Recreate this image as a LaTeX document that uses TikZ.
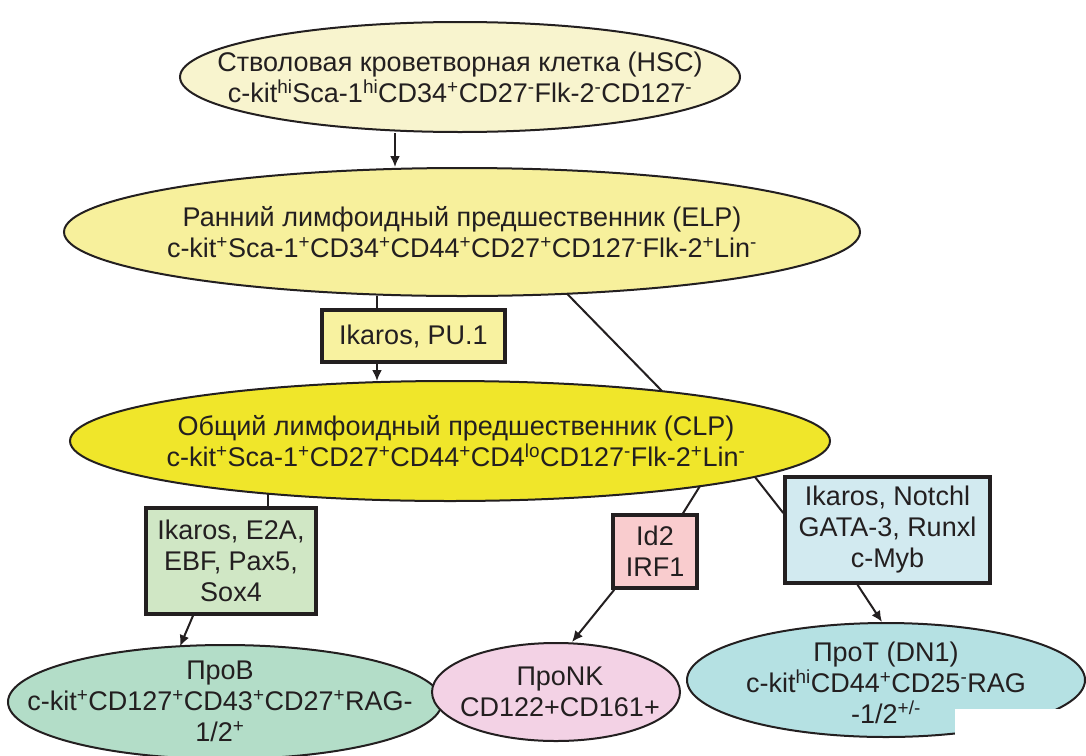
\documentclass[tikz,border=0pt]{standalone}
\usepackage{fontspec}
\setmainfont{Liberation Sans}
\usetikzlibrary{arrows.meta,calc,shapes.geometric}

% superscript markers for the surface antigens
\newcommand{\supplus}{\textsuperscript{+}}
\newcommand{\supminus}{\textsuperscript{-}}
\newcommand{\suphi}{\textsuperscript{hi}}
\newcommand{\suplo}{\textsuperscript{lo}}
\newcommand{\suppm}{\textsuperscript{+/-}}

\definecolor{ink}{HTML}{231F20}
\definecolor{hscfill}{HTML}{F8F4CE}
\definecolor{elpfill}{HTML}{F7F09C}
\definecolor{clpfill}{HTML}{F0E62A}
\definecolor{tfbox}{HTML}{F8F2A0}
\definecolor{bfill}{HTML}{D0E7C5}
\definecolor{nkfill}{HTML}{F9CCCE}
\definecolor{tfill}{HTML}{D2EAF0}
\definecolor{probfill}{HTML}{B3DDC8}
\definecolor{pronkfill}{HTML}{F3D2E5}
\definecolor{protfill}{HTML}{B5E1E3}

\tikzset{
  cell/.style={ellipse, draw=ink, line width=2pt, inner sep=0pt},
  factor/.style={rectangle, draw=ink, line width=3.5pt, inner sep=0pt},
  label/.style={align=center, text=ink, font=\fontsize{27}{31}\selectfont},
  conn/.style={draw=ink, line width=2pt},
  arr/.style={conn, -{Latex[length=11pt,width=10pt]}}
}

\begin{document}
\begin{tikzpicture}[x=1pt,y=-1pt]
\useasboundingbox (0,0) rectangle (1086,755);

% cell stages
\node[cell, fill=hscfill, minimum width=560pt, minimum height=110pt] (hsc) at (460,77) {};
\node[cell, fill=elpfill, minimum width=796pt, minimum height=128pt] (elp) at (462,232) {};
\node[cell, fill=clpfill, minimum width=760pt, minimum height=120pt] (clp) at (450,441) {};
\node[cell, fill=probfill, minimum width=434pt, minimum height=114pt] (prob) at (225,702) {};
\node[cell, fill=pronkfill, minimum width=248pt, minimum height=98pt] (pronk) at (556,692) {};
\node[cell, fill=protfill, minimum width=398pt, minimum height=114pt] (prot) at (886,680) {};

% white patch over the lower right corner
\fill[white] (955,709) rectangle (1086,755);

% transcription factor boxes
\node[factor, fill=tfbox, minimum width=183pt, minimum height=52pt] (box1) at (413.5,336) {};
\node[factor, fill=bfill, minimum width=170pt, minimum height=106pt] (gbox) at (231,561) {};
\node[factor, fill=nkfill, minimum width=84pt, minimum height=73pt] (pink) at (655,551.5) {};
\node[factor, fill=tfill, minimum width=205pt, minimum height=106pt] (bbox) at (887.5,530) {};

% texts
\node[label] (thsc) at (hsc.center) {Стволовая кроветворная клетка (HSC)\\
  c-kit\suphi Sca-1\suphi CD34\supplus CD27\supminus Flk-2\supminus CD127\supminus};
\node[label] (telp) at (elp.center) {Ранний лимфоидный предшественник (ELP)\\
  c-kit\supplus Sca-1\supplus CD34\supplus CD44\supplus CD27\supplus CD127\supminus Flk-2\supplus Lin\supminus};
\node[label] (tclp) at ($(clp.center)+(6,0)$) {Общий лимфоидный предшественник (CLP)\\
  c-kit\supplus Sca-1\supplus CD27\supplus CD44\supplus CD4\suplo CD127\supminus Flk-2\supplus Lin\supminus};
\node[label] (tprob) at ($(prob.center)+(-5,-1)$) {ПроВ\\c-kit\supplus CD127\supplus CD43\supplus CD27\supplus RAG-\\1/2\supplus};
\node[label] (tpronk) at ($(pronk.center)+(4,0)$) {ПроNK\\CD122+CD161+};
\node[label] (tprot) at ($(prot.center)+(0,3)$) {ПроT (DN1)\\c-kit\suphi CD44\supplus CD25\supminus RAG\\-1/2\suppm};
\node[label] (tbox1) at (box1.center) {Ikaros, PU.1};
\node[label] (tgbox) at (gbox.center) {Ikaros, E2A,\\EBF, Pax5,\\Sox4};
\node[label] (tpink) at (pink.center) {Id2\\IRF1};
\node[label] (tbbox) at (bbox.center) {Ikaros, Notchl\\GATA-3, Runxl\\c-Myb};

% connectors
\draw[arr] ($(hsc.south)+(-65,0)$) -- ($(elp.north)+(-67,0)$);
\coordinate (a1) at ($(elp.south)+(-85,-1.5)$);
\draw[conn] (a1) -- (a1 |- box1.north);
\draw[arr] (a1 |- box1.south) -- ($(a1 |- clp.north)+(0,1)$);
\draw[conn] ($(elp.center)+(105,61.7)$) -- ($(clp.center)+(212,-50)$);
\coordinate (a2) at ($(clp.center)+(-182,53)$);
\draw[conn] (a2) -- (a2 |- gbox.north);
\draw[arr] ($(gbox.south)+(-38,0)$) -- ($(prob.center)+(-45,-55.8)$);
\draw[conn] ($(clp.center)+(250,45)$) -- ($(pink.north)+(28,0)$);
\draw[arr] ($(pink.south west)+(3,0)$) -- ($(pronk.north)+(16,0)$);
\draw[conn] ($(clp.center)+(305,36)$) -- ($(bbox.west)+(0,-17)$);
\draw[arr] ($(bbox.south)+(-30,0)$) -- ($(prot.north)+(-4,0)$);
\end{tikzpicture}
\end{document}
